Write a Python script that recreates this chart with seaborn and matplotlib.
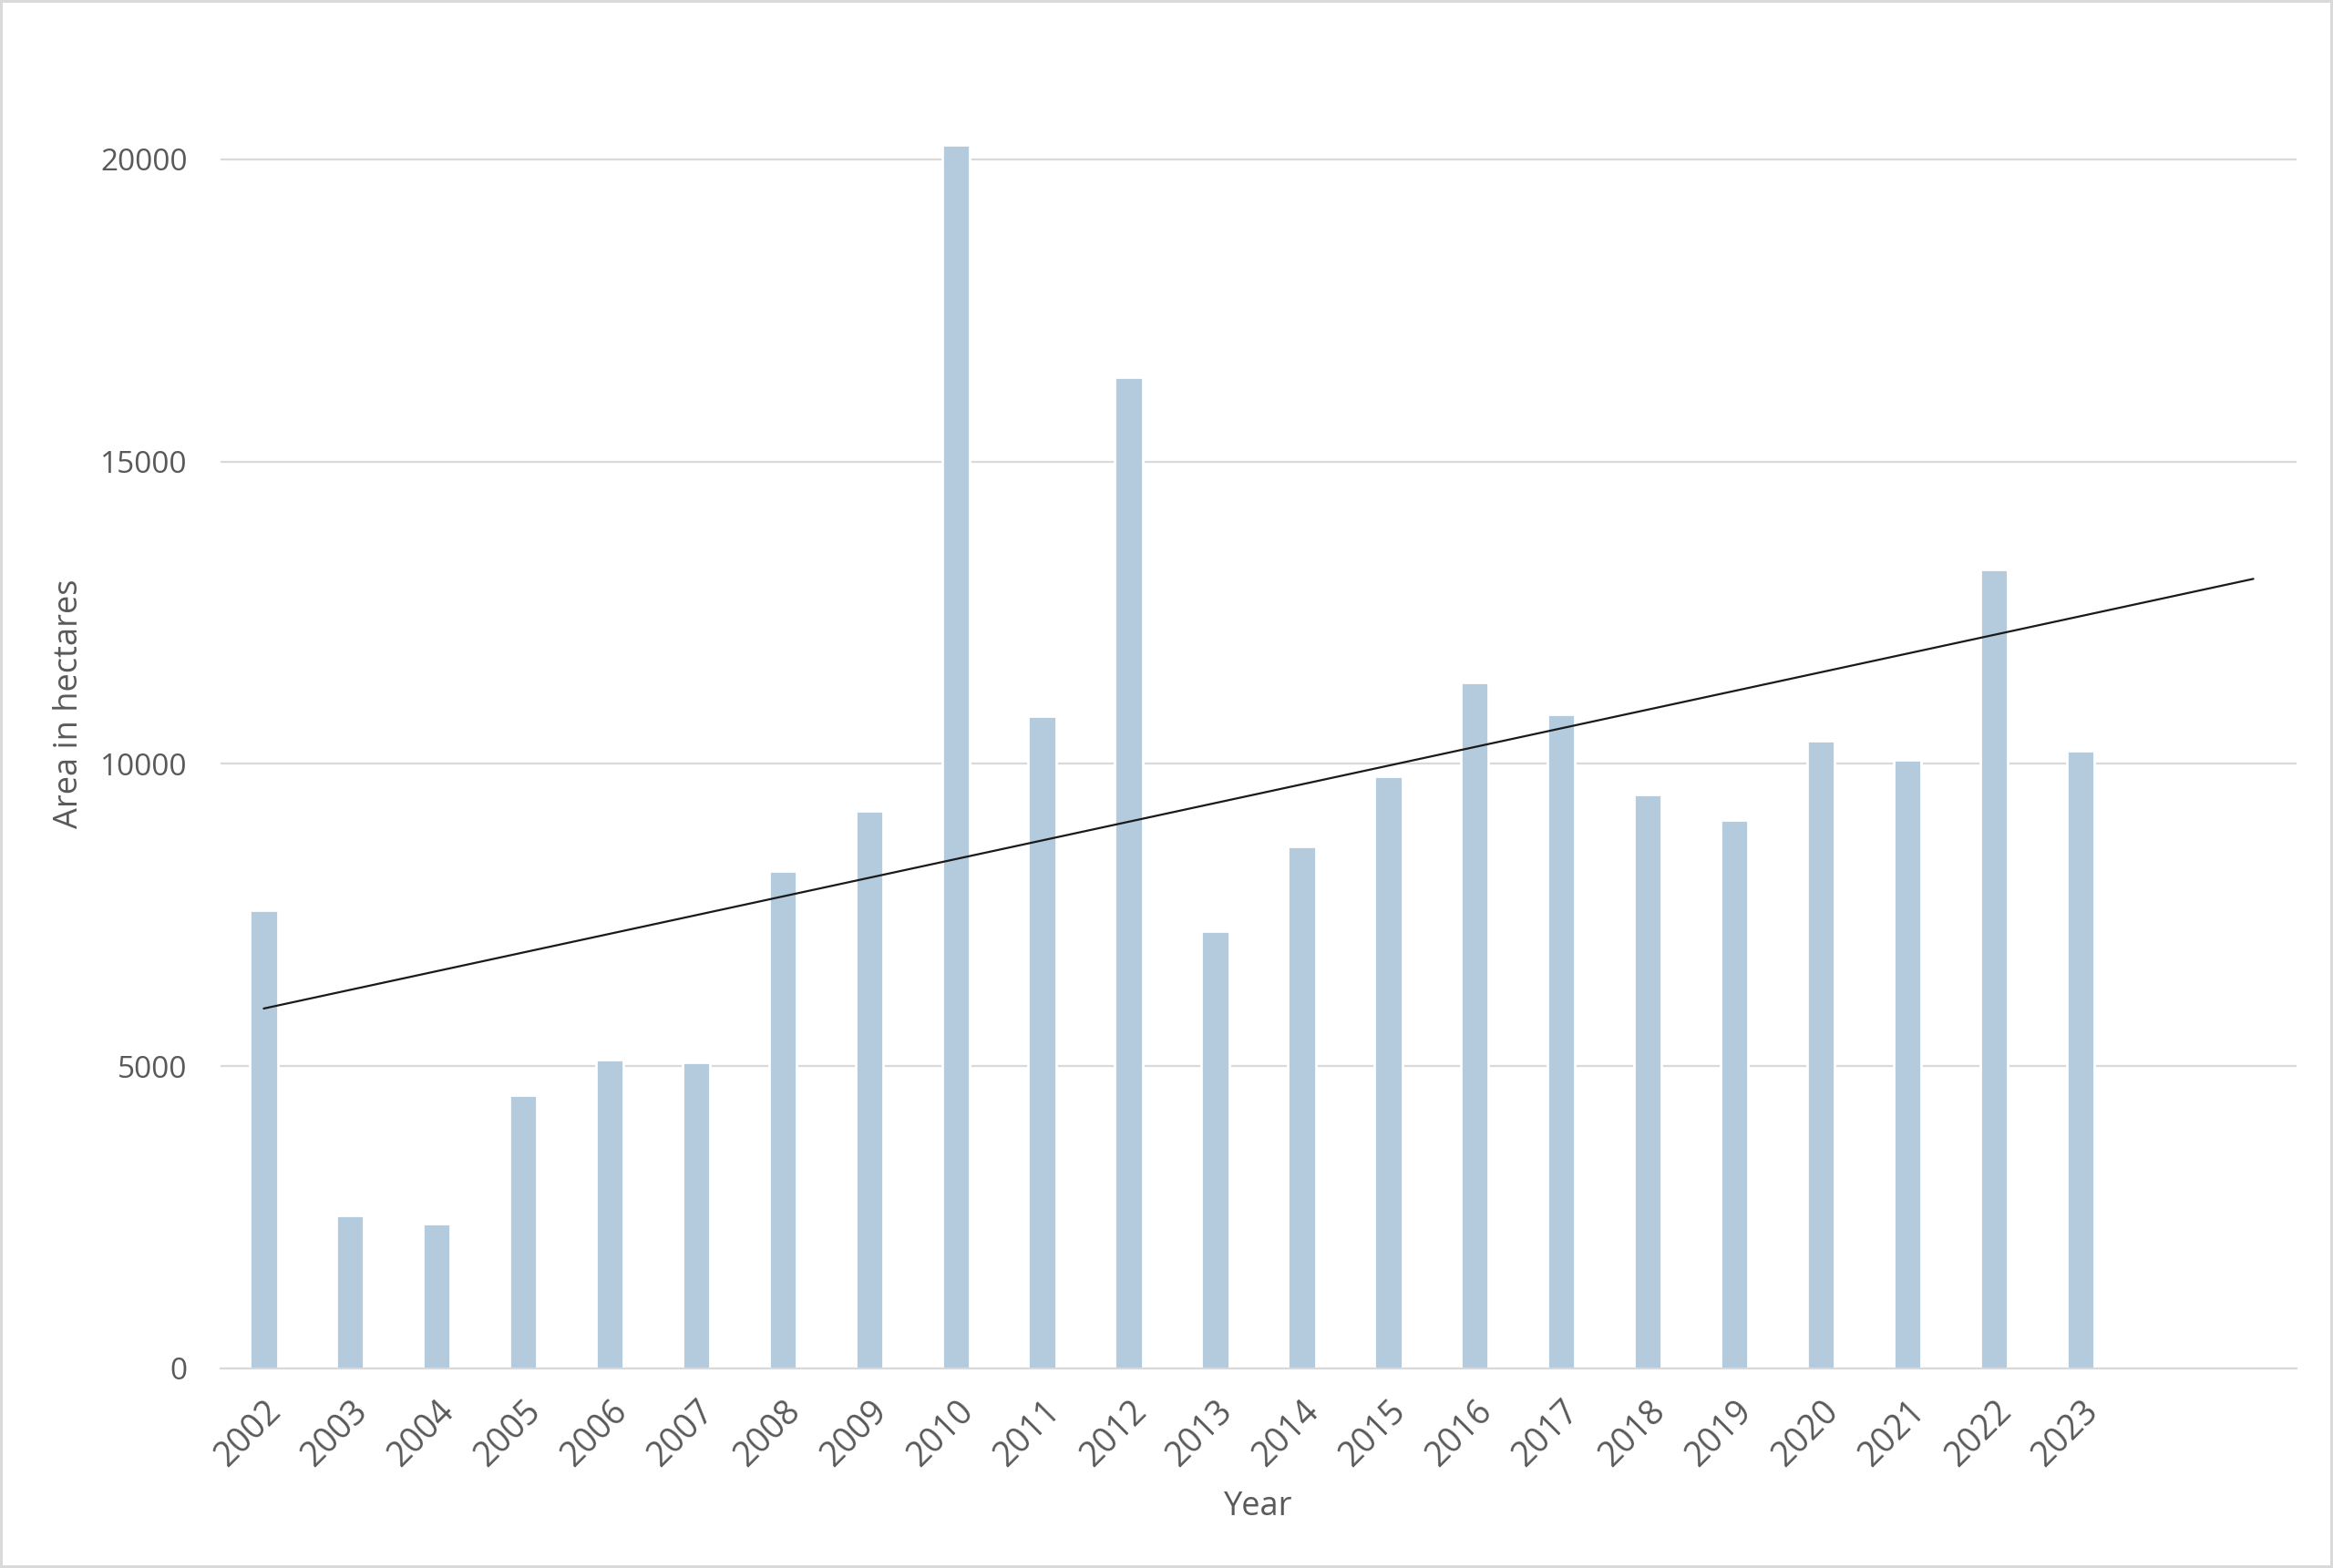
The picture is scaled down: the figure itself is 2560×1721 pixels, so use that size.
import numpy as np
import pandas as pd
import matplotlib.pyplot as plt
import seaborn as sns

years = [str(y) for y in range(2002, 2024)]
forecast_years = ["2024", "2025"]  # empty slots the trend line is extended into
area = [7577, 2527, 2392, 4522, 5110, 5060, 8234, 9214, 20241, 10791, 16393,
        7232, 8635, 9791, 11341, 10824, 9496, 9077, 10381, 10062, 13210, 10209]

bar_color = "#b4cadd"
text_color = "#595959"
grid_color = "#d9d9d9"

sns.set_style("white")
plt.rcParams["font.family"] = ["Open Sans", "DejaVu Sans"]

df = pd.DataFrame({"year": years, "area": area})

fig = plt.figure(figsize=(12.8, 8.605), dpi=200,
                 edgecolor=grid_color, linewidth=1.5)
ax = fig.add_axes([0.0945, 0.1273, 0.8899, 0.8483])

sns.barplot(data=df, x="year", y="area", order=years + forecast_years,
            color=bar_color, saturation=1, width=0.32, ax=ax)

# linear trend, forecast forward two periods
coef = np.polyfit(np.arange(len(area)), area, 1)
trend_x = np.array([0, len(area) - 1 + len(forecast_years)])
trend = pd.DataFrame({"x": trend_x, "y": np.polyval(coef, trend_x)})
sns.lineplot(data=trend, x="x", y="y", color="#1a1a1a", linewidth=0.8, ax=ax)

ax.set_xlim(-0.5, len(years) + len(forecast_years) - 0.5)
ax.set_ylim(0, 22000)
ax.set_yticks([0, 5000, 10000, 15000, 20000])
ax.set_yticklabels(["0", "5000", "10000", "15000", "20000"])
ax.set_xticks(range(len(years)))
ax.set_xticklabels(years, rotation=45, ha="right", rotation_mode="anchor")

ax.yaxis.grid(True, color=grid_color, linewidth=0.8)
ax.set_axisbelow(True)
for side in ["left", "right", "top"]:
    ax.spines[side].set_visible(False)
ax.spines["bottom"].set_color(grid_color)
ax.spines["bottom"].set_linewidth(0.8)

ax.tick_params(axis="y", length=0, labelsize=12, labelcolor=text_color, pad=13)
ax.tick_params(axis="x", length=0, labelsize=13.5, labelcolor=text_color, pad=10)

ax.set_xlabel("Year", fontsize=13, color=text_color)
ax.set_ylabel("Area in hectares", fontsize=13, color=text_color)
ax.xaxis.set_label_coords(0.5, -0.092)
ax.yaxis.set_label_coords(-0.065, 0.5)

fig.savefig("out.png", dpi=200)
